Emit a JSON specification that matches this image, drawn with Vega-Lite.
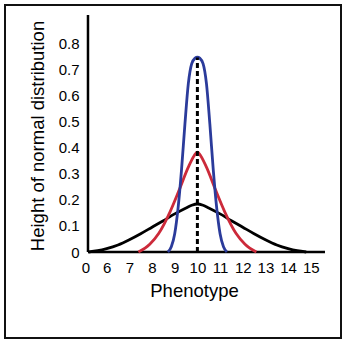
{
  "$schema": "https://vega.github.io/schema/vega-lite/v6.json",
  "width": 336,
  "height": 333,
  "autosize": {"type": "none"},
  "padding": {"left": 5, "top": 5, "right": 1, "bottom": 5},
  "background": "white",
  "config": {
    "view": {"stroke": "#111111", "strokeWidth": 2},
    "font": "Liberation Sans"
  },
  "datasets": {
    "axes": [
      {"x": 5.176, "x2": 15.626, "y": 0, "y2": 0},
      {"x": 5.176, "x2": 5.176, "y": 0, "y2": 0.908}
    ],
    "center": [{"x": 10, "y": 0, "y2": 0.745}],
    "curves": [
      {"series": "wide", "x": 5.2, "y": 0.0},
      {"series": "wide", "x": 5.6, "y": 0.005},
      {"series": "wide", "x": 6.0, "y": 0.013},
      {"series": "wide", "x": 6.5, "y": 0.027},
      {"series": "wide", "x": 7.0, "y": 0.047},
      {"series": "wide", "x": 7.5, "y": 0.07},
      {"series": "wide", "x": 8.0, "y": 0.095},
      {"series": "wide", "x": 8.5, "y": 0.12},
      {"series": "wide", "x": 9.0, "y": 0.146},
      {"series": "wide", "x": 9.5, "y": 0.169},
      {"series": "wide", "x": 9.75, "y": 0.179},
      {"series": "wide", "x": 10.0, "y": 0.184},
      {"series": "wide", "x": 10.25, "y": 0.179},
      {"series": "wide", "x": 10.5, "y": 0.169},
      {"series": "wide", "x": 11.0, "y": 0.146},
      {"series": "wide", "x": 11.5, "y": 0.12},
      {"series": "wide", "x": 12.0, "y": 0.095},
      {"series": "wide", "x": 12.5, "y": 0.07},
      {"series": "wide", "x": 13.0, "y": 0.047},
      {"series": "wide", "x": 13.5, "y": 0.027},
      {"series": "wide", "x": 14.0, "y": 0.013},
      {"series": "wide", "x": 14.4, "y": 0.005},
      {"series": "wide", "x": 14.8, "y": 0.0},
      {"series": "medium", "x": 7.4, "y": 0.0},
      {"series": "medium", "x": 7.9, "y": 0.03},
      {"series": "medium", "x": 8.3, "y": 0.072},
      {"series": "medium", "x": 8.8, "y": 0.155},
      {"series": "medium", "x": 9.2, "y": 0.238},
      {"series": "medium", "x": 9.6, "y": 0.325},
      {"series": "medium", "x": 9.85, "y": 0.368},
      {"series": "medium", "x": 10.0, "y": 0.383},
      {"series": "medium", "x": 10.15, "y": 0.368},
      {"series": "medium", "x": 10.4, "y": 0.325},
      {"series": "medium", "x": 10.8, "y": 0.238},
      {"series": "medium", "x": 11.2, "y": 0.155},
      {"series": "medium", "x": 11.7, "y": 0.072},
      {"series": "medium", "x": 12.1, "y": 0.03},
      {"series": "medium", "x": 12.6, "y": 0.0},
      {"series": "narrow", "x": 8.7, "y": 0.0},
      {"series": "narrow", "x": 8.85, "y": 0.02},
      {"series": "narrow", "x": 9.0, "y": 0.07},
      {"series": "narrow", "x": 9.15, "y": 0.17},
      {"series": "narrow", "x": 9.3, "y": 0.315},
      {"series": "narrow", "x": 9.45, "y": 0.49},
      {"series": "narrow", "x": 9.6, "y": 0.645},
      {"series": "narrow", "x": 9.75, "y": 0.722},
      {"series": "narrow", "x": 9.9, "y": 0.743},
      {"series": "narrow", "x": 10.0, "y": 0.747},
      {"series": "narrow", "x": 10.1, "y": 0.743},
      {"series": "narrow", "x": 10.25, "y": 0.722},
      {"series": "narrow", "x": 10.4, "y": 0.645},
      {"series": "narrow", "x": 10.55, "y": 0.49},
      {"series": "narrow", "x": 10.7, "y": 0.315},
      {"series": "narrow", "x": 10.85, "y": 0.17},
      {"series": "narrow", "x": 11.0, "y": 0.07},
      {"series": "narrow", "x": 11.15, "y": 0.02},
      {"series": "narrow", "x": 11.3, "y": 0.0}
    ]
  },
  "encoding": {
    "x": {
      "field": "x", "type": "quantitative",
      "scale": {"domain": [1.517, 16.332], "nice": false, "zero": false},
      "axis": {
        "title": "Phenotype",
        "values": [5.066, 6, 7, 8, 9, 10, 11, 12, 13, 14, 15],
        "labelExpr": "datum.value < 5.5 ? '0' : format(datum.value, 'd')",
        "offset": -86, "domain": false, "ticks": false, "grid": false,
        "labelFontSize": 15, "labelColor": "black", "labelPadding": 8,
        "labelFlush": false, "labelOverlap": false, "labelSeparation": 0,
        "titleFontSize": 18.5, "titleFontWeight": "normal", "titleColor": "black",
        "titleX": 189, "titleY": 44, "titleAlign": "center", "titleBaseline": "alphabetic"
      }
    },
    "y": {
      "field": "y", "type": "quantitative",
      "scale": {"domain": [-0.3295, 0.9464], "nice": false, "zero": false},
      "axis": {
        "title": "Height of normal distribution",
        "values": [0, 0.1, 0.2, 0.3, 0.4, 0.5, 0.6, 0.7, 0.8],
        "labelExpr": "datum.value == 0 ? '0' : format(datum.value, '.1f')",
        "offset": -83, "domain": false, "ticks": false, "grid": false,
        "labelFontSize": 15, "labelColor": "black", "labelPadding": 9,
        "labelFlush": false, "labelOverlap": false,
        "titleFontSize": 18.5, "titleFontWeight": "normal", "titleColor": "black",
        "titleX": -44.5, "titleY": 130.5, "titleAngle": -90, "titleAlign": "center", "titleBaseline": "alphabetic"
      }
    }
  },
  "layer": [
    {
      "data": {"name": "axes"},
      "mark": {"type": "rule", "color": "black", "strokeWidth": 2.5},
      "encoding": {"x2": {"field": "x2"}, "y2": {"field": "y2"}}
    },
    {
      "data": {"name": "curves"},
      "mark": {"type": "line", "strokeWidth": 2.8, "interpolate": "monotone"},
      "encoding": {
        "color": {
          "field": "series", "type": "nominal",
          "scale": {"domain": ["wide", "medium", "narrow"], "range": ["#000000", "#cc2a3a", "#2b3b9b"]},
          "legend": null
        }
      }
    },
    {
      "data": {"name": "center"},
      "mark": {"type": "rule", "color": "black", "strokeWidth": 3, "strokeDash": [5, 3]},
      "encoding": {"y2": {"field": "y2"}}
    }
  ]
}
